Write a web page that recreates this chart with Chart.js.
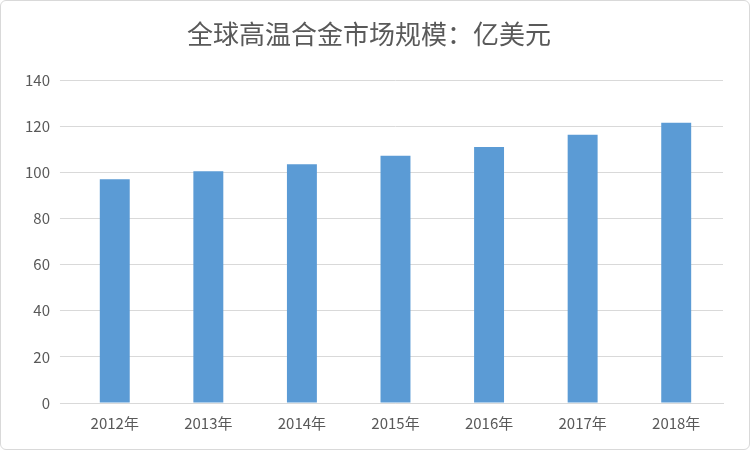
<!DOCTYPE html>
<html><head><meta charset="utf-8">
<script src="https://cdn.jsdelivr.net/npm/chart.js@4/dist/chart.umd.min.js"></script>
<style>
html,body{margin:0;padding:0;background:#fff;}
#wrap{position:absolute;left:0;top:0;width:750px;height:450px;border:1px solid #d9d9d9;border-radius:6px;box-sizing:border-box;}
</style></head><body>
<div id="wrap"><canvas id="c" width="750" height="450"></canvas></div>
<script>
const categories=["2012年","2013年","2014年","2015年","2016年","2017年","2018年"];
const values=[97,100.5,103.6,107.2,111,116.3,121.5];
const yTicks=[0,20,40,60,80,100,120,140];
new Chart(document.getElementById('c'),{
type:'bar',
data:{labels:categories,datasets:[{data:values,backgroundColor:'#5b9bd5',barPercentage:0.32,categoryPercentage:1}]},
options:{responsive:false,animation:false,
layout:{padding:{left:14,right:28,top:4,bottom:16}},
plugins:{legend:{display:false},tooltip:{enabled:false},
title:{display:true,text:'全球高温合金市场规模：亿美元',color:'#595959',font:{family:'Noto Sans CJK SC',size:26,weight:'normal'},padding:{top:14,bottom:30}}},
scales:{
x:{grid:{display:false},border:{color:'#d9d9d9'},ticks:{color:'#595959',font:{family:'Noto Sans CJK SC',size:15}}},
y:{min:0,max:140,afterBuildTicks:a=>{a.ticks=yTicks.map(v=>({value:v}));},
grid:{color:'#d9d9d9'},border:{display:false},ticks:{color:'#595959',padding:10,font:{family:'Noto Sans CJK SC',size:15}}}
}}});
</script></body></html>
